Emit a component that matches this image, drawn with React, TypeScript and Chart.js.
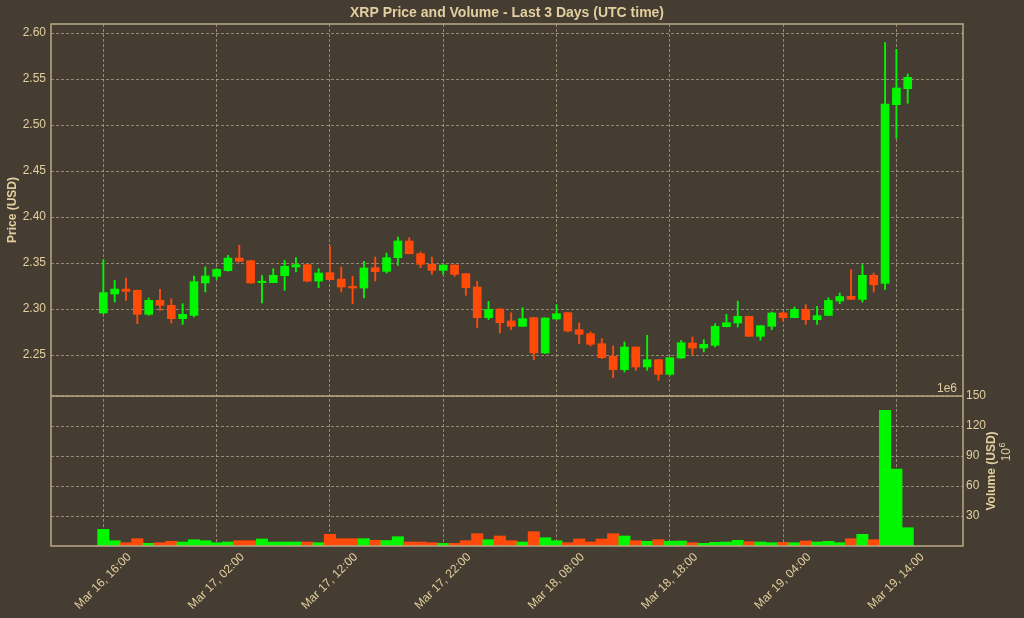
import React, { useEffect, useRef } from 'react';
import { Chart, registerables } from 'chart.js';

Chart.register(...registerables);

// Hourly candles, Mar 16 16:00 -> Mar 19 15:00 (UTC)
const opens = [
  2.2957, 2.3163, 2.3217, 2.3203, 2.2942, 2.3094, 2.304, 2.2895, 2.2931, 2.3283,
  2.3355, 2.3417, 2.3554, 2.3525, 2.3286, 2.3286, 2.3362, 2.3457, 2.3482, 2.3304,
  2.3395, 2.3326, 2.3246, 2.3228, 2.3449, 2.3409, 2.3558, 2.3739, 2.3601, 2.3486,
  2.342, 2.3478, 2.3384, 2.3239, 2.2906, 2.3, 2.287, 2.2812, 2.2906, 2.2522,
  2.2891, 2.296, 2.2775, 2.2732, 2.2623, 2.2486, 2.2341, 2.2587, 2.237, 2.2449,
  2.229, 2.2467, 2.263, 2.2576, 2.2605, 2.2808, 2.2848, 2.292, 2.2703, 2.2812,
  2.2957, 2.2906, 2.2996, 2.2884, 2.2931, 2.3087, 2.3138, 2.3105, 2.3366, 2.3279,
  2.5221, 2.5395,
];
const highs = [
  2.3536, 2.3312, 2.3337, 2.3207, 2.312, 2.3214, 2.3112, 2.3058, 2.3359, 2.3457,
  2.344, 2.3583, 2.3692, 2.3528, 2.3366, 2.3438, 2.3529, 2.3558, 2.3485, 2.3438,
  2.3685, 2.3457, 2.3355, 2.3518, 2.3565, 2.3609, 2.3783, 2.3775, 2.362, 2.3565,
  2.3478, 2.348, 2.3386, 2.3301, 2.3083, 2.3002, 2.296, 2.3014, 2.2908, 2.2904,
  2.3047, 2.2962, 2.2848, 2.275, 2.2678, 2.2598, 2.2641, 2.2589, 2.2714, 2.2451,
  2.2473, 2.2659, 2.2696, 2.2667, 2.2841, 2.2942, 2.3087, 2.2922, 2.2821, 2.2967,
  2.2967, 2.3022, 2.3047, 2.3029, 2.3123, 2.3174, 2.3428, 2.3482, 2.3391, 2.5895,
  2.5823, 2.5554,
];
const lows = [
  2.295, 2.3076, 2.3094, 2.2841, 2.293, 2.2986, 2.2848, 2.2833, 2.2913, 2.3185,
  2.3322, 2.341, 2.3511, 2.328, 2.3065, 2.3286, 2.3203, 2.3402, 2.3293, 2.3232,
  2.3319, 2.3185, 2.3058, 2.312, 2.3304, 2.3391, 2.3475, 2.3601, 2.3449, 2.3377,
  2.3377, 2.3355, 2.3149, 2.2797, 2.2884, 2.2739, 2.2775, 2.281, 2.2449, 2.2515,
  2.2889, 2.275, 2.2623, 2.2598, 2.246, 2.2254, 2.2315, 2.2333, 2.2333, 2.2225,
  2.228, 2.2465, 2.2507, 2.2533, 2.2587, 2.2805, 2.2804, 2.2703, 2.266, 2.2775,
  2.287, 2.2904, 2.2833, 2.2833, 2.2929, 2.3058, 2.3101, 2.3076, 2.3185, 2.3214,
  2.4855, 2.5236,
];
const closes = [
  2.3178, 2.3217, 2.3192, 2.2942, 2.3094, 2.304, 2.2895, 2.2942, 2.3297, 2.3359,
  2.3431, 2.3554, 2.3518, 2.3283, 2.3297, 2.3366, 2.3464, 2.3482, 2.3304, 2.3391,
  2.3319, 2.3239, 2.3228, 2.3446, 2.3406, 2.3558, 2.3739, 2.3601, 2.3486, 2.342,
  2.3478, 2.3377, 2.3232, 2.2906, 2.2996, 2.2851, 2.2812, 2.2895, 2.2522, 2.2902,
  2.2949, 2.2761, 2.2725, 2.2616, 2.2471, 2.2341, 2.2587, 2.237, 2.2449, 2.229,
  2.2471, 2.2634, 2.2576, 2.2616, 2.2812, 2.2851, 2.292, 2.2703, 2.2819, 2.2957,
  2.2906, 2.2996, 2.2884, 2.2928, 2.3094, 2.3136, 2.3105, 2.3366, 2.3264, 2.5228,
  2.5402, 2.5518,
];
// Volume in millions of USD
const volumes = [
  16.7, 5.3, 3.3, 7.3, 2.7, 3.3, 4.7, 4, 6.3, 5.3,
  3.3, 4, 5.3, 5.3, 7, 4, 4, 4, 4, 3.3,
  11.7, 7.3, 7.3, 7.3, 5.7, 5.5, 9.3, 4, 4, 3.3,
  2.7, 2.7, 5.3, 12.3, 6.3, 10, 5.3, 4, 14.3, 8.3,
  5.3, 3.3, 7, 4, 7, 12.3, 10, 5.3, 4.7, 6.3,
  4.8, 5, 3.3, 2.7, 3.7, 4, 5.7, 4.3, 4, 3.3,
  3.7, 3.3, 5, 4, 4.7, 3.3, 7.3, 11.7, 6.3, 135.7,
  77, 18.3,
];

const xTickIndices = [0, 10, 20, 30, 40, 50, 60, 70];
const xTickLabels = [
  'Mar 16, 16:00', 'Mar 17, 02:00', 'Mar 17, 12:00', 'Mar 17, 22:00',
  'Mar 18, 08:00', 'Mar 18, 18:00', 'Mar 19, 04:00', 'Mar 19, 14:00',
];
const priceTicks = [2.25, 2.3, 2.35, 2.4, 2.45, 2.5, 2.55, 2.6];
const volumeTicks = [30, 60, 90, 120, 150];

const UP = '#00f700';
const DOWN = '#ff4a0a';
const BG = '#463d32';
const TEXT = '#e2cf9f';
const FRAME = '#b9a985';
const GRID = 'rgba(200,186,150,0.62)';
const FONT = "'Liberation Sans', Arial, sans-serif";

const decor = {
  id: 'decor',
  beforeDraw(chart: any) {
    const { ctx, width, height } = chart;
    ctx.save();
    ctx.fillStyle = BG;
    ctx.fillRect(0, 0, width, height);
    ctx.restore();
  },
  afterDraw(chart: any) {
    const { ctx, chartArea } = chart;
    const { left, right, top, bottom } = chartArea;
    const sep = chart.scales.yv.getPixelForValue(150);
    ctx.save();
    ctx.strokeStyle = FRAME;
    ctx.lineWidth = 1.5;
    ctx.strokeRect(left, top, right - left, bottom - top);
    ctx.beginPath();
    ctx.moveTo(left, sep);
    ctx.lineTo(right, sep);
    ctx.stroke();

    ctx.fillStyle = TEXT;
    ctx.font = `12px ${FONT}`;
    ctx.textAlign = 'right';
    ctx.textBaseline = 'bottom';
    ctx.fillText('1e6', right - 6, sep - 1);

    ctx.font = `bold 12px ${FONT}`;
    ctx.textAlign = 'center';
    ctx.textBaseline = 'middle';
    ctx.save();
    ctx.translate(13, (top + sep) / 2);
    ctx.rotate(-Math.PI / 2);
    ctx.fillText('Price (USD)', 0, 0);
    ctx.restore();

    ctx.save();
    ctx.translate(992, (sep + bottom) / 2);
    ctx.rotate(-Math.PI / 2);
    ctx.fillText('Volume (USD)', 0, 0);
    ctx.restore();

    ctx.save();
    ctx.translate(1007, 448);
    ctx.rotate(-Math.PI / 2);
    ctx.font = `12px ${FONT}`;
    ctx.textAlign = 'right';
    ctx.fillText('10', 0, 0);
    ctx.font = `9px ${FONT}`;
    ctx.textAlign = 'left';
    ctx.fillText('6', 0.5, -4);
    ctx.restore();

    ctx.restore();
  },
};

export default function App() {
  const ref = useRef<HTMLCanvasElement>(null);

  useEffect(() => {
    const idx = opens.map((_, i) => i);
    const colors = idx.map((i) => (closes[i] >= opens[i] ? UP : DOWN));
    const chart = new Chart(ref.current as HTMLCanvasElement, {
      type: 'bar',
      data: {
        datasets: [
          {
            label: 'Wick',
            data: idx.map((i) => ({ x: i, y: [lows[i], highs[i]] })) as any,
            backgroundColor: colors,
            barThickness: 1.2,
            grouped: false,
            yAxisID: 'y',
            order: 2,
          },
          {
            label: 'Body',
            data: idx.map((i) => ({ x: i, y: [opens[i], closes[i]] })) as any,
            backgroundColor: colors,
            barThickness: 8,
            minBarLength: 1.5,
            grouped: false,
            yAxisID: 'y',
            order: 1,
          },
          {
            label: 'Volume',
            data: idx.map((i) => ({ x: i, y: volumes[i] })) as any,
            backgroundColor: colors,
            barThickness: 11.4,
            grouped: false,
            yAxisID: 'yv',
            order: 3,
          },
        ],
      },
      options: {
        animation: false,
        responsive: false,
        devicePixelRatio: 1,
        layout: { padding: 0 },
        plugins: {
          legend: { display: false },
          tooltip: { enabled: false },
          title: {
            display: true,
            fullSize: false,
            text: 'XRP Price and Volume - Last 3 Days (UTC time)',
            color: TEXT,
            font: { family: FONT, size: 14, weight: 'bold', lineHeight: 1.2 },
            padding: { top: 4.6, bottom: 2.6 },
          },
        },
        scales: {
          x: {
            type: 'linear',
            min: -4.62,
            max: 75.88,
            offset: false,
            bounds: 'data',
            afterBuildTicks: (s: any) => {
              s.ticks = xTickIndices.map((v) => ({ value: v }));
            },
            afterFit: (s: any) => {
              s.height = 72;
            },
            grid: { color: GRID, lineWidth: 1, drawTicks: false, offset: false },
            border: { display: false, dash: [3, 2] },
            ticks: {
              autoSkip: false,
              maxRotation: 45,
              minRotation: 45,
              padding: 4,
              labelOffset: 26,
              color: TEXT,
              font: { family: FONT, size: 12 },
              callback: (v: any) => {
                const k = xTickIndices.indexOf(Number(v));
                return k >= 0 ? xTickLabels[k] : '';
              },
            },
          },
          y: {
            type: 'linear',
            position: 'left',
            min: 2.0424,
            max: 2.6098,
            bounds: 'data',
            afterBuildTicks: (s: any) => {
              s.ticks = priceTicks.map((v) => ({ value: v }));
            },
            afterFit: (s: any) => {
              s.width = 51;
            },
            grid: { color: GRID, lineWidth: 1, drawTicks: false },
            border: { display: false, dash: [3, 2] },
            ticks: {
              padding: 5,
              color: TEXT,
              font: { family: FONT, size: 12 },
              callback: (v: any) => Number(v).toFixed(2),
            },
          },
          yv: {
            type: 'linear',
            position: 'right',
            min: 0,
            max: 522,
            bounds: 'data',
            afterBuildTicks: (s: any) => {
              s.ticks = volumeTicks.map((v) => ({ value: v }));
            },
            afterFit: (s: any) => {
              s.width = 61;
            },
            grid: { color: GRID, lineWidth: 1, drawTicks: false },
            border: { display: false, dash: [3, 2] },
            ticks: {
              padding: 3,
              color: TEXT,
              font: { family: FONT, size: 12 },
              callback: (v: any) => String(v),
            },
          },
        },
      } as any,
      plugins: [decor],
    });
    return () => chart.destroy();
  }, []);

  return (
    <div style={{ position: 'absolute', left: 0, top: 0, width: 1024, height: 618, background: BG }}>
      <canvas ref={ref} width={1024} height={618} style={{ display: 'block' }} />
    </div>
  );
}
